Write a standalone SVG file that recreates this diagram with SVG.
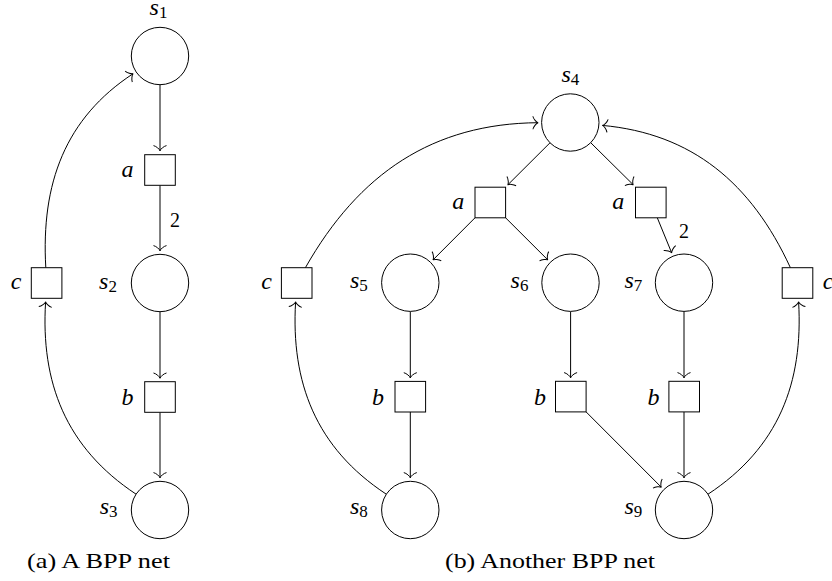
<svg xmlns="http://www.w3.org/2000/svg" width="832" height="581" viewBox="0 0 832 581">
  <style>
    .place { fill: #fff; stroke: #000; stroke-width: 1; }
    .trans { fill: #fff; stroke: #000; stroke-width: 1; }
    .arc { fill: none; stroke: #000; stroke-width: 1; marker-end: url(#to); }
    .m { font-style: italic; font-size: 24px; text-anchor: middle; }
    .sub { font-style: normal; font-size: 17px; }
    .w { font-size: 20px; text-anchor: middle; }
    .cap { font-size: 22px; }
  </style>
  <defs>
    <marker id="to" markerUnits="userSpaceOnUse" orient="auto" refX="0" refY="0"
            viewBox="-7 -8 9 16" markerWidth="9" markerHeight="16" overflow="visible">
      <path d="M-5.2,-6.5 C-4.6,-3.8 -1.6,-0.4 0,0 C-1.6,0.4 -4.6,3.8 -5.2,6.5"
            fill="none" stroke="#000" stroke-width="1"/>
    </marker>
  </defs>

  <g font-family="'Liberation Serif', 'DejaVu Serif', 'Times New Roman', serif" fill="#000">
  <!-- connectors -->
  <g id="connectors">
    <!-- net (a) -->
    <path class="arc" d="M160,84.7 V150.8"/>
    <path class="arc" d="M160,185.3 V250.8"/>
    <path class="arc" d="M160,311.7 V378.2"/>
    <path class="arc" d="M160,412.3 V477.8"/>
    <path class="arc" d="M45.8,267.7 C40.9,183.3 65.4,118 133.1,73.7"/>
    <path class="arc" d="M136.1,494.2 C65.7,447.6 40.6,382.5 45.6,301.8"/>
    <!-- net (b) -->
    <path class="arc" d="M550,142.8 L507.8,184.8"/>
    <path class="arc" d="M590.7,142.7 L633.2,184.7"/>
    <path class="arc" d="M475,217.8 L433,259.9"/>
    <path class="arc" d="M505.6,217.8 L547.8,259.9"/>
    <path class="arc" d="M657.3,217.8 L671.7,252.9"/>
    <path class="arc" d="M410.3,311.4 V377.9"/>
    <path class="arc" d="M570.6,311.4 V377.8"/>
    <path class="arc" d="M684,311.4 V377.8"/>
    <path class="arc" d="M410.3,412 V477.8"/>
    <path class="arc" d="M684,411.9 V477.8"/>
    <path class="arc" d="M586.1,411.9 L661.3,487.2"/>
    <path class="arc" d="M305.4,267.7 C358.9,173.4 432.9,123.5 538.1,122.7"/>
    <path class="arc" d="M790.4,267.7 C751.2,182.8 692,133.6 602.4,125.4"/>
    <path class="arc" d="M386.3,494.2 C315.8,447.8 290.8,382.5 295.6,301.8"/>
    <path class="arc" d="M708,494.2 C778.6,447.7 803.4,382.6 798.6,301.8"/>
    <!-- arc weights -->
    <text class="w" x="175" y="227.3">2</text>
    <text class="w" x="684" y="238.3">2</text>
  </g>

  <!-- net (a) -->
  <g id="a-s1">
    <circle class="place" cx="160" cy="56" r="28.7"/>
    <text class="m" x="158.5" y="15">s<tspan class="sub" dy="3">1</tspan></text>
  </g>
  <g id="a-ta">
    <rect class="trans" x="144.7" y="154.7" width="30.6" height="30.6"/>
    <text class="m" x="127.5" y="176.5">a</text>
  </g>
  <g id="a-s2">
    <circle class="place" cx="160" cy="283" r="28.7"/>
    <text class="m" x="108" y="288.5">s<tspan class="sub" dy="3">2</tspan></text>
  </g>
  <g id="a-tb">
    <rect class="trans" x="144.7" y="381.7" width="30.6" height="30.6"/>
    <text class="m" x="127.5" y="405">b</text>
  </g>
  <g id="a-s3">
    <circle class="place" cx="160" cy="510" r="28.7"/>
    <text class="m" x="108.7" y="514">s<tspan class="sub" dy="3">3</tspan></text>
  </g>
  <g id="a-tc">
    <rect class="trans" x="31.3" y="267.7" width="30.6" height="30.6"/>
    <text class="m" x="16" y="289.3">c</text>
  </g>

  <!-- net (b) -->
  <g id="b-s4">
    <circle class="place" cx="570.3" cy="122.5" r="28.7"/>
    <text class="m" x="570.3" y="81.7">s<tspan class="sub" dy="3">4</tspan></text>
  </g>
  <g id="b-ta1">
    <rect class="trans" x="475" y="187.2" width="30.6" height="30.6"/>
    <text class="m" x="458.3" y="209.3">a</text>
  </g>
  <g id="b-ta2">
    <rect class="trans" x="635.5" y="187.2" width="30.6" height="30.6"/>
    <text class="m" x="618.3" y="209.3">a</text>
  </g>
  <g id="b-s5">
    <circle class="place" cx="410.3" cy="282.7" r="28.7"/>
    <text class="m" x="358.8" y="288.3">s<tspan class="sub" dy="3">5</tspan></text>
  </g>
  <g id="b-s6">
    <circle class="place" cx="570.5" cy="282.7" r="28.7"/>
    <text class="m" x="519.5" y="288.3">s<tspan class="sub" dy="3">6</tspan></text>
  </g>
  <g id="b-s7">
    <circle class="place" cx="684" cy="282.7" r="28.7"/>
    <text class="m" x="633.3" y="288.3">s<tspan class="sub" dy="3">7</tspan></text>
  </g>
  <g id="b-tc1">
    <rect class="trans" x="281.4" y="267.7" width="30.6" height="30.6"/>
    <text class="m" x="266.5" y="289.3">c</text>
  </g>
  <g id="b-tc2">
    <rect class="trans" x="782.2" y="267.7" width="30.6" height="30.6"/>
    <text class="m" x="828" y="289.3">c</text>
  </g>
  <g id="b-tb1">
    <rect class="trans" x="395" y="381.4" width="30.6" height="30.6"/>
    <text class="m" x="378" y="405">b</text>
  </g>
  <g id="b-tb2">
    <rect class="trans" x="555.5" y="381.3" width="30.6" height="30.6"/>
    <text class="m" x="540" y="405">b</text>
  </g>
  <g id="b-tb3">
    <rect class="trans" x="668.9" y="381.3" width="30.6" height="30.6"/>
    <text class="m" x="653.5" y="405">b</text>
  </g>
  <g id="b-s8">
    <circle class="place" cx="410.3" cy="510" r="28.7"/>
    <text class="m" x="358.8" y="514">s<tspan class="sub" dy="3">8</tspan></text>
  </g>
  <g id="b-s9">
    <circle class="place" cx="684" cy="510" r="28.7"/>
    <text class="m" x="633.3" y="514">s<tspan class="sub" dy="3">9</tspan></text>
  </g>

  <!-- captions -->
  <text class="cap" x="27" y="568" textLength="143" lengthAdjust="spacingAndGlyphs">(a) A BPP net</text>
  <text class="cap" x="445" y="567.5" textLength="210" lengthAdjust="spacingAndGlyphs">(b) Another BPP net</text>
  </g>
</svg>
